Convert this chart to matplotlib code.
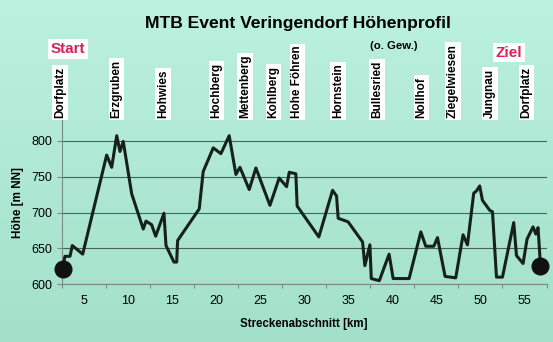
import numpy as np
import matplotlib.pyplot as plt
from matplotlib.transforms import blended_transform_factory

plt.rcParams['font.family'] = ['Liberation Sans', 'DejaVu Sans']

# Hoehenprofil (km, m NN)
km = [2.6, 2.87, 3.44, 3.70, 4.88, 7.60, 8.17, 8.74, 9.11, 9.48,
      10.44, 11.75, 12.06, 12.70, 13.16, 14.10, 14.33, 15.23, 15.54, 15.65,
      18.10, 18.55, 19.69, 20.56, 21.50, 22.26, 22.72, 23.77, 24.53, 26.12,
      27.17, 28.01, 28.31, 29.06, 29.21, 31.67, 33.23, 33.68, 33.86, 34.99,
      36.63, 36.89, 37.46, 37.62, 38.53, 39.64, 40.10, 41.91, 43.24, 43.80,
      44.71, 45.13, 45.99, 47.20, 48.03, 48.53, 49.24, 49.55, 49.92, 50.23,
      51.06, 51.37, 51.82, 52.50, 53.78, 54.09, 54.84, 55.29, 55.97, 56.28,
      56.54, 56.81]
hoehe = [622, 639, 639, 654, 642, 780, 763, 807, 785, 799,
         726, 677, 688, 683, 667, 699, 654, 631, 631, 661,
         705, 757, 790, 782, 807, 753, 763, 732, 762, 710,
         748, 736, 756, 754, 709, 666, 731, 723, 692, 687,
         659, 626, 655, 608, 605, 642, 608, 608, 673, 653,
         653, 665, 611, 609, 669, 655, 727, 730, 737, 717,
         703, 701, 610, 610, 686, 640, 629, 663, 680, 670,
         679, 626]

orte = ['Dorfplatz', 'Erzgruben', 'Hohwies', 'Hochberg', 'Mettenberg',
        'Kohlberg', 'Hohe Föhren', 'Hornstein', 'Bullesried', 'Nollhof',
        'Ziegelwiesen', 'Jungnau', 'Dorfplatz']
orte_km = [2.3, 8.74, 14.0, 20.07, 23.28, 26.5, 29.24, 33.86, 38.28,
           43.32, 46.9, 51.1, 55.2]

fig = plt.figure(figsize=(5.53, 3.42), dpi=100)

# Hintergrund (leichter Verlauf)
bg = fig.add_axes([0, 0, 1, 1], zorder=-5)
c1 = np.array([0xbb, 0xf1, 0xdf]) / 255
c2 = np.array([0xa3, 0xe0, 0xca]) / 255
t = np.linspace(0, 1, 100)[:, None, None]
bg.imshow(c1 * (1 - t) + c2 * t, aspect='auto', extent=[0, 1, 0, 1])
bg.axis('off')

ax = fig.add_axes([0.1116, 0.1687, 0.8767, 0.5038])
ax.set_facecolor('none')
ax.set_xlim(2.5, 57.5)
ax.set_ylim(600, 840)

ax.plot(km, hoehe, color='#17211c', lw=2.2, zorder=3)
ax.plot([km[0], km[-1]], [hoehe[0], hoehe[-1]], 'o', ms=12,
        color='#111111', clip_on=False, zorder=4)

ax.set_yticks(range(600, 801, 50))
ax.yaxis.grid(True, color='#4f5f5a', lw=0.8)
ax.set_axisbelow(True)
ax.tick_params(axis='y', length=3.5, color='#7a8a85', labelsize=9, pad=3.5)

ax.set_xticks(np.arange(2.5, 58, 5))
ax.set_xticklabels([])
ax.set_xticks(range(5, 56, 5), minor=True)
ax.set_xticklabels([str(v) for v in range(5, 56, 5)], minor=True)
ax.tick_params(axis='x', which='major', length=3, color='#7a8a85')
ax.tick_params(axis='x', which='minor', length=0, labelsize=9, pad=8)

for s in ['top', 'right']:
    ax.spines[s].set_visible(False)
for s in ['left', 'bottom']:
    ax.spines[s].set_color('#7a8a85')
    ax.spines[s].set_linewidth(0.8)

trans = blended_transform_factory(ax.transData, fig.transFigure)
for name, x in zip(orte, orte_km):
    ax.text(x, 0.655, name, transform=trans, rotation=90, ha='center',
            va='bottom', fontsize=8.5, fontweight='bold',
            bbox=dict(facecolor='white', edgecolor='none', pad=1.2))

fig.text(298 / 553, 1 - 27.7 / 342, 'MTB Event Veringendorf Höhenprofil',
         ha='center', va='baseline', fontsize=12.6, fontweight='bold')
fig.text(67.5 / 553, 1 - 53 / 342, 'Start', ha='center', va='baseline',
         fontsize=11, fontweight='bold', color='#d6215a',
         bbox=dict(facecolor='white', edgecolor='none', pad=2))
fig.text(509 / 553, 1 - 56.7 / 342, 'Ziel', ha='center', va='baseline',
         fontsize=11, fontweight='bold', color='#d6215a',
         bbox=dict(facecolor='white', edgecolor='none', pad=2))
fig.text(394 / 553, 1 - 49 / 342, '(o. Gew.)', ha='center', va='baseline',
         fontsize=8.2, fontweight='bold')

fig.text(18 / 553, 1 - 202.5 / 342, 'Höhe [m NN]', rotation=90,
         ha='center', va='center', fontsize=8.5, fontweight='bold')
fig.text(303.5 / 553, 1 - 324 / 342, 'Streckenabschnitt [km]',
         ha='center', va='center', fontsize=8.3, fontweight='bold')

fig.savefig('out.png', dpi=100)
